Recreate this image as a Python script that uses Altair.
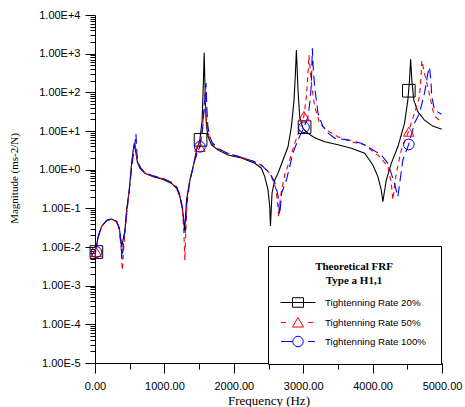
import altair as alt
import pandas as pd

# ---------------- data ----------------
series_names = ["Tightenning Rate 20%", "Tightenning Rate 50%", "Tightenning Rate 100%"]

freq_20 = [0, 47, 96, 168, 240, 312, 350, 385, 432, 456,
           494, 528, 551, 565, 590, 609, 647, 719, 839, 983,
           1104, 1176, 1223, 1262, 1285, 1292, 1319, 1367, 1414, 1463,
           1511, 1544, 1558, 1568, 1573, 1592, 1607, 1630, 1679, 1774,
           1918, 2111, 2302, 2398, 2446, 2493, 2518, 2528, 2551, 2590,
           2637, 2709, 2781, 2830, 2868, 2888, 2902, 2925, 2950, 2997,
           3069, 3165, 3309, 3501, 3694, 3885, 4004, 4076, 4125, 4148,
           4197, 4269, 4364, 4460, 4508, 4532, 4548, 4565, 4594, 4652,
           4748, 4867, 4997]
mag_20 = [0.0074, 0.0186, 0.034, 0.048, 0.053, 0.045, 0.031, 0.0102, 0.0275, 0.091,
          0.30, 1.5, 3.2, 4.8, 2.7, 1.6, 1.09, 0.81, 0.66, 0.56,
          0.44, 0.33, 0.20, 0.091, 0.034, 0.027, 0.165, 0.54, 1.2, 3.2,
          5.9, 19, 115, 460, 1060, 43, 13, 7.1, 4.4, 3.2,
          2.4, 2.0, 1.46, 1.09, 0.66, 0.30, 0.11, 0.035, 0.25, 0.54,
          0.81, 1.78, 3.9, 13, 63, 310, 1240, 115, 23, 11.7,
          8.7, 6.7, 5.3, 4.4, 3.6, 2.65, 1.32, 0.66, 0.30, 0.149,
          0.54, 1.46, 3.9, 15.8, 63, 209, 715, 209, 63, 31.6,
          19, 13.4, 11.1]

freq_50 = [0, 47, 96, 168, 240, 312, 350, 375, 393, 415,
           440, 470, 500, 530, 555, 575, 595, 615, 650, 720,
           840, 985, 1105, 1180, 1225, 1262, 1282, 1295, 1310, 1330,
           1367, 1414, 1470, 1511, 1545, 1570, 1585, 1600, 1615, 1640,
           1680, 1775, 1920, 2110, 2300, 2400, 2470, 2520, 2560, 2600,
           2630, 2645, 2676, 2734, 2806, 2878, 2950, 3011, 3046, 3069,
           3083, 3100, 3118, 3165, 3237, 3334, 3501, 3694, 3885, 3981,
           4101, 4220, 4269, 4292, 4341, 4413, 4508, 4604, 4676, 4701,
           4709, 4748, 4806, 4867, 4906, 4993]
mag_50 = [0.006, 0.018, 0.034, 0.048, 0.053, 0.044, 0.028, 0.010, 0.0025, 0.010,
          0.035, 0.12, 0.40, 1.5, 3.4, 4.6, 2.6, 1.6, 1.12, 0.83,
          0.68, 0.58, 0.46, 0.34, 0.21, 0.08, 0.02, 0.0045, 0.03, 0.2,
          0.55, 1.2, 2.6, 3.9, 10, 40, 100, 30, 13, 7.5,
          4.8, 3.4, 2.6, 2.1, 1.6, 1.3, 1.0, 0.8, 0.55, 0.35,
          0.15, 0.06, 0.22, 0.73, 1.78, 4.9, 10.6, 24.5, 77, 310,
          920, 400, 175, 43, 15.8, 10.6, 7.1, 5.3, 4.4, 3.2,
          2.17, 1.2, 0.45, 0.165, 0.81, 3.2, 8.7, 29, 77, 310,
          660, 316, 115, 35, 23, 17]

freq_100 = [0, 47, 96, 168, 240, 312, 350, 375, 390, 410,
            440, 470, 500, 530, 555, 575, 590, 605, 623, 660,
            720, 840, 985, 1105, 1180, 1225, 1262, 1285, 1300, 1320,
            1367, 1414, 1463, 1511, 1550, 1575, 1600, 1612, 1625, 1650,
            1690, 1775, 1920, 2110, 2300, 2400, 2480, 2540, 2600, 2640,
            2662, 2690, 2758, 2853, 2925, 3011, 3069, 3100, 3118, 3132,
            3145, 3165, 3213, 3281, 3357, 3453, 3645, 3837, 3932, 4125,
            4220, 4316, 4364, 4400, 4436, 4520, 4604, 4676, 4748, 4796,
            4820, 4840, 4853, 4892, 4993]
mag_100 = [0.0068, 0.019, 0.035, 0.049, 0.054, 0.046, 0.03, 0.012, 0.005, 0.012,
           0.04, 0.13, 0.38, 1.2, 2.6, 4.5, 8.4, 2.5, 1.46, 1.1,
           0.84, 0.69, 0.59, 0.47, 0.35, 0.22, 0.1, 0.04, 0.023, 0.12,
           0.5, 1.15, 2.6, 3.9, 11, 40, 175, 40, 14, 7.5,
           5, 3.5, 2.6, 2.1, 1.6, 1.3, 0.95, 0.7, 0.42, 0.2,
           0.068, 0.25, 0.54, 2.7, 5.9, 12.5, 23, 63, 170, 1380,
           400, 140, 29, 13.5, 8.9, 6.5, 5.9, 4.8, 3.9, 2.4,
           1.46, 0.44, 0.20, 0.6, 1.78, 4.5, 16, 29, 95, 310,
           450, 200, 77, 35, 27]

marker_freq_20 = [20, 1521, 3020, 4522]
marker_mag_20 = [0.0074, 5.9, 12.6, 110]
marker_freq_50 = [20, 1511, 3011, 4522]
marker_mag_50 = [0.0074, 3.9, 24.5, 9.6]
marker_freq_100 = [20, 1511, 3011, 4522]
marker_mag_100 = [0.0074, 3.9, 12.5, 4.5]

x_ticks = [0, 1000, 2000, 3000, 4000, 5000]
x_minor = [500, 1500, 2500, 3500, 4500]
y_ticks = [1e-5, 1e-4, 1e-3, 1e-2, 1e-1, 1e0, 1e1, 1e2, 1e3, 1e4]
y_minor = [m * 10.0 ** k for k in range(-5, 4) for m in range(2, 10)]

# ---------------- tables ----------------
def table(f, m, s):
    return pd.DataFrame({"freq": f, "mag": m, "series": s})

line20 = table(freq_20, mag_20, series_names[0])
line50 = table(freq_50, mag_50, series_names[1])
line100 = table(freq_100, mag_100, series_names[2])
mk20 = table(marker_freq_20, marker_mag_20, series_names[0])
mk50 = table(marker_freq_50, marker_mag_50, series_names[1])
mk100 = table(marker_freq_100, marker_mag_100, series_names[2])

xscale = alt.Scale(domain=[0, 5000], nice=False, zero=False)
yscale = alt.Scale(type="log", domain=[1e-5, 1e4], nice=False)

SANS = "Liberation Sans"
SERIF = "Liberation Serif"

x_major_axis = alt.Axis(orient="bottom", values=x_ticks, format=".2f", title="Frequency (Hz)",
                        labelFont=SANS, labelFontSize=11, labelColor="black",
                        tickSize=10, labelPadding=7, labelFlush=False, labelOverlap=False,
                        titleFont=SERIF, titleFontSize=13, titleFontWeight="normal",
                        titleColor="black", titlePadding=3, grid=False,
                        domainColor="black", tickColor="black")
x_minor_axis = alt.Axis(orient="bottom", values=x_minor, labels=False, tickSize=6, domain=False,
                        title=None, grid=False, tickColor="black")
y_major_axis = alt.Axis(orient="left", values=y_ticks,
                        labelExpr="'1.00E' + (round(log(datum.value)/LN10) >= 0 ? '+' : '') + round(log(datum.value)/LN10)",
                        title="Magnitude (ms-2/N)",
                        labelFont=SANS, labelFontSize=11, labelColor="black",
                        tickSize=10, labelPadding=5, labelOverlap=False,
                        titleFont=SERIF, titleFontSize=11, titleFontWeight="normal",
                        titleColor="black", titleX=-76, titleY=163, grid=False,
                        domainColor="black", tickColor="black")
y_minor_axis = alt.Axis(orient="left", values=y_minor, labels=False, tickSize=5, domain=False,
                        title=None, grid=False, tickColor="black")


def line_layer(df, color, dash, xaxis=None, yaxis=None):
    kw = dict(color=color, strokeWidth=1.1)
    if dash:
        kw["strokeDash"] = dash
    return alt.Chart(df).mark_line(**kw).encode(
        x=alt.X("freq:Q", scale=xscale, axis=xaxis),
        y=alt.Y("mag:Q", scale=yscale, axis=yaxis),
        order="freq:Q",
    )


def marker_layer(df, color, shape, size):
    return alt.Chart(df).mark_point(shape=shape, filled=False, color=color,
                                    size=size, strokeWidth=1, opacity=1).encode(
        x=alt.X("freq:Q", scale=xscale, axis=None),
        y=alt.Y("mag:Q", scale=yscale, axis=None),
    )


l20 = line_layer(line20, "black", None, x_major_axis, y_major_axis)
l50 = line_layer(line50, "#ff0000", [5, 4], x_minor_axis, y_minor_axis)
l100 = line_layer(line100, "#0000ff", [10, 5])

m20 = marker_layer(mk20, "black", "square", 160)
m50 = marker_layer(mk50, "#ff0000", "triangle-up", 110)
m100 = marker_layer(mk100, "#0000ff", "circle", 115)

# legend symbols: short line pieces plus marker, drawn as custom paths
legend_paths = [
    "M-3.5,0H3.5M-1.1,-0.95H1.1V0.95H-1.1Z",
    "M-3.4,0H-2.4M2.0,0H3.0M0,-1.0L1.1,0.9H-1.1Z",
    "M-3.4,0H-1.05M2.0,0H3.4M1.05,0A1.05,1.05,0,1,1,-1.05,0A1.05,1.05,0,1,1,1.05,0Z",
]
legend_colors = ["black", "#ff0000", "#0000ff"]

legend_spec = alt.Legend(
    orient="none", legendX=173, legendY=231,
    title=["Theoretical  FRF", "Type a  H1,1"],
    titleFont=SERIF, titleFontSize=11, titleFontWeight="bold", titleColor="black",
    titleAnchor="middle", titleLineHeight=14, titlePadding=11,
    labelFont=SANS, labelFontSize=9.7, labelColor="black", labelOffset=21.5,
    symbolOffset=9.5,
    labelLimit=300, rowPadding=5, padding=15,
    strokeColor="black", fillColor="white",
    symbolSize=100, symbolStrokeWidth=1,
)

all_markers = pd.concat([mk20, mk50, mk100], ignore_index=True)
legend_layer = alt.Chart(all_markers).transform_filter("datum.freq < 0").mark_point(
    filled=False, size=100, strokeWidth=1, opacity=1).encode(
    x=alt.X("freq:Q", scale=xscale, axis=None),
    y=alt.Y("mag:Q", scale=yscale, axis=None),
    shape=alt.Shape("series:N", scale=alt.Scale(domain=series_names, range=legend_paths),
                    legend=legend_spec),
    color=alt.Color("series:N", scale=alt.Scale(domain=series_names, range=legend_colors),
                    legend=legend_spec),
)

chart = alt.layer(l20, l50, l100, m20, m50, m100, legend_layer).resolve_axis(
    x="independent", y="independent"
).properties(
    width=347, height=348,
    autosize=alt.AutoSizeParams(type="none"),
    padding={"left": 95, "top": 15, "right": 23, "bottom": 44},
    background="white",
).configure_view(stroke=None)

chart.save("out.html", embed_options={"renderer": "svg", "actions": False})
